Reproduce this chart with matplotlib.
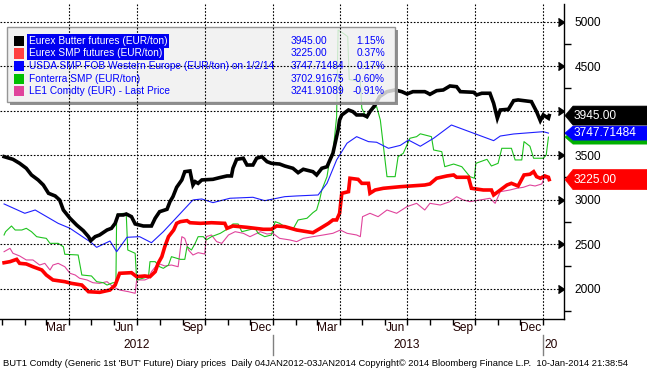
import pandas as pd
import matplotlib
matplotlib.use('Agg')
import matplotlib.pyplot as plt
import matplotlib.dates as mdates
from matplotlib.patches import Rectangle, Polygon
from matplotlib.ticker import MultipleLocator, NullFormatter, FuncFormatter
from matplotlib.transforms import blended_transform_factory

W, H = 647, 373
plt.rcParams['font.family'] = ['Liberation Sans', 'DejaVu Sans']

# days counted from 2012-01-01
START = pd.Timestamp('2012-01-01')

butter_days = [3, 15, 24, 33, 40, 49, 56, 63, 72, 78, 83, 92, 101, 110, 117, 120, 126, 132, 142, 148,
               153, 157, 164, 168, 175, 180, 191, 202, 207, 213, 223, 227, 231, 236, 243, 247, 254, 258, 261, 265,
               270, 285, 294, 304, 310, 312, 317, 326, 331, 339, 344, 351, 358, 364, 375, 382, 393, 400, 407, 420,
               425, 432, 439, 443, 447, 450, 454, 456, 459, 468, 474, 479, 488, 493, 497, 504, 510, 520, 531, 540,
               547, 555, 571, 574, 578, 587, 596, 605, 614, 619, 637, 641, 648, 659, 664, 669, 673, 684, 691, 697,
               715, 722, 727, 731, 738, 739]
butter = [3483, 3453, 3408, 3352, 3277, 3221, 3164, 3071, 3041, 2996, 2883, 2790, 2714, 2650, 2583, 2538, 2583, 2602, 2658, 2677,
          2733, 2827, 2827, 2838, 2808, 2726, 2703, 2703, 2790, 2864, 2891, 2977, 3033, 3138, 3221, 3314, 3322, 3164, 3202, 3183,
          3221, 3228, 3247, 3266, 3266, 3352, 3453, 3465, 3389, 3389, 3465, 3483, 3427, 3408, 3400, 3378, 3352, 3303, 3341, 3314,
          3277, 3352, 3370, 3446, 3521, 3634, 3783, 3896, 3952, 4008, 3989, 3952, 3952, 3933, 3989, 4064, 4158, 4214, 4233, 4214,
          4188, 4214, 4214, 4203, 4184, 4225, 4233, 4278, 4270, 4214, 4207, 4177, 4196, 4196, 4083, 3915, 4008, 4016, 4113, 4121,
          4102, 3989, 3888, 3952, 3915, 3945]

smp_days = [3, 11, 20, 24, 33, 42, 54, 60, 69, 85, 94, 108, 117, 132, 146, 153, 159, 175, 182, 193,
            200, 207, 211, 216, 220, 225, 232, 236, 241, 250, 254, 268, 283, 301, 304, 312, 331, 353, 364, 371,
            382, 398, 420, 430, 441, 447, 452, 456, 459, 468, 470, 481, 486, 495, 497, 504, 515, 538, 571, 578,
            587, 601, 610, 614, 630, 634, 650, 661, 664, 670, 682, 688, 697, 705, 713, 718, 722, 727, 733, 738, 739]
smp = [2290, 2302, 2328, 2283, 2276, 2245, 2208, 2152, 2096, 2077, 2058, 2039, 1964, 1957, 1983, 2039, 2171, 2178, 2133, 2141,
       2133, 2189, 2283, 2358, 2470, 2583, 2658, 2733, 2752, 2763, 2740, 2733, 2740, 2733, 2677, 2703, 2688, 2666, 2666, 2703,
       2696, 2658, 2628, 2677, 2733, 2771, 2771, 2846, 3071, 3089, 3240, 3228, 3183, 3183, 3071, 3108, 3127, 3145, 3164, 3176,
       3240, 3266, 3277, 3251, 3251, 3127, 3108, 3108, 3052, 3089, 3164, 3183, 3153, 3277, 3285, 3314, 3258, 3240, 3266, 3251, 3225]

usda_days = [3, 31, 45, 76, 92, 121, 128, 146, 155, 169, 186, 202, 218, 258, 270, 285, 308, 339, 355, 382,
             398, 427, 439, 452, 466, 479, 495, 506, 522, 538, 549, 565, 583, 607, 664, 673, 691, 731, 738]
usda = [2951, 2846, 2883, 2733, 2677, 2515, 2463, 2534, 2414, 2576, 2583, 2515, 2639, 2996, 3007, 2966, 3015, 3026, 2988, 3033,
        3041, 3052, 3183, 3446, 3634, 3708, 3652, 3645, 3577, 3610, 3670, 3600, 3690, 3839, 3663, 3715, 3738, 3764, 3748]

fonterra_days = [3, 5, 13, 18, 27, 33, 40, 47, 54, 60, 65, 76, 83, 85, 103, 108, 121, 128, 137, 142,
                 150, 154, 155, 164, 168, 170, 180, 182, 198, 200, 207, 213, 218, 225, 229, 241, 247, 250, 256, 261,
                 265, 272, 276, 283, 295, 306, 312, 319, 324, 333, 342, 346, 355, 364, 369, 375, 382, 393, 400, 412,
                 420, 425, 429, 432, 439, 443, 447, 452, 454, 461, 467, 469, 472, 484, 486, 493, 499, 506, 511, 520,
                 531, 535, 542, 551, 560, 565, 580, 583, 594, 598, 610, 621, 632, 638, 640, 655, 661, 670, 675, 688,
                 693, 702, 705, 713, 718, 731, 735, 738]
fonterra = [2602, 2639, 2703, 2658, 2658, 2677, 2639, 2583, 2572, 2564, 2508, 2508, 2470, 2385, 2377, 2152, 2141, 2077, 2065, 2039,
            2065, 2065, 2827, 2846, 2827, 2433, 2396, 2096, 2133, 2302, 2302, 2245, 2227, 2264, 2358, 2328, 2328, 2470, 2433, 2508,
            2583, 2583, 2546, 2583, 2621, 2677, 2726, 2726, 2639, 2658, 2677, 2621, 2583, 2602, 2752, 2733, 2696, 2666, 2771, 2790,
            2853, 2883, 2996, 3108, 3258, 3465, 3521, 3933, 4908, 4871, 4833, 4350, 4346, 4327, 4027, 3915, 4008, 4046, 3896, 3258,
            3258, 3483, 3521, 3690, 3708, 3740, 3708, 3558, 3539, 3370, 3400, 3370, 3258, 3240, 3408, 3453, 3378, 3408, 3577, 3577,
            3446, 3446, 3652, 3600, 3465, 3465, 3502, 3703]

le1_days = [3, 11, 15, 24, 33, 42, 51, 58, 65, 69, 76, 85, 92, 99, 105, 115, 123, 132, 142, 150,
            159, 171, 180, 182, 193, 198, 202, 211, 220, 229, 238, 243, 247, 252, 258, 265, 274, 276, 283, 290,
            297, 306, 315, 326, 335, 349, 358, 366, 375, 389, 398, 407, 420, 434, 447, 457, 466, 479, 484, 487,
            497, 508, 520, 533, 547, 560, 571, 578, 592, 605, 614, 623, 632, 646, 659, 666, 673, 686, 695, 704,
            713, 720, 729, 732, 738]
le1 = [2414, 2452, 2396, 2366, 2321, 2321, 2264, 2283, 2208, 2264, 2283, 2245, 2171, 2152, 2115, 2096, 2065, 2058, 2077, 2020,
       1983, 1964, 1946, 2096, 2096, 2115, 2189, 2283, 2253, 2264, 2245, 2583, 2564, 2433, 2377, 2403, 2388, 2583, 2602, 2527,
       2508, 2602, 2639, 2621, 2583, 2639, 2613, 2621, 2564, 2546, 2527, 2564, 2583, 2602, 2621, 2658, 2621, 2602, 2583, 2808,
       2846, 2808, 2883, 2846, 2921, 2958, 2883, 2958, 2939, 2977, 3033, 2996, 2977, 2996, 3015, 2958, 3089, 3108, 3127, 3138,
       3164, 3153, 3176, 3240, 3242]

legend_labels = ['Eurex Butter futures (EUR/ton)', 'Eurex SMP futures (EUR/ton)',
                 'USDA SMP FOB Western Europe (EUR/ton) on 1/2/14', 'Fonterra SMP (EUR/ton)',
                 'LE1 Comdty (EUR) - Last Price']
legend_values = ['3945.00', '3225.00', '3747.71484', '3702.91675', '3241.91089']
legend_pct = ['1.15%', '0.37%', '0.17%', '-0.60%', '-0.91%']
colors = ['#000000', '#ff0000', '#1f1fff', '#1ec31e', '#e0449c']
legend_sq = ['#000000', '#ff4040', '#0000ff', '#00c000', '#e0449c']

footer = ("BUT1 Comdty (Generic 1st 'BUT' Future) Diary prices  Daily 04JAN2012-03JAN2014 "
          "Copyright\u00a9 2014 Bloomberg Finance L.P.  10-Jan-2014 21:38:54")


def to_dates(days):
    return START + pd.to_timedelta(days, unit='D')


def fpos(x, y):
    # pixel position (from top-left) to figure fraction
    return x / W, 1 - y / H


fig = plt.figure(figsize=(W / 100, H / 100), dpi=100)
fig.patch.set_facecolor('white')
ax = fig.add_axes([0, 54 / H, 564 / W, 315 / H])
ax.set_axisbelow(False)

ax.plot(to_dates(le1_days), le1, color=colors[4], lw=0.8, zorder=2)
ax.plot(to_dates(fonterra_days), fonterra, color=colors[3], lw=0.8, zorder=2)
ax.plot(to_dates(usda_days), usda, color=colors[2], lw=0.8, zorder=2)
ax.plot(to_dates(smp_days), smp, color=colors[1], lw=2.6, zorder=2.05, solid_joinstyle='miter')
ax.plot(to_dates(butter_days), butter, color=colors[0], lw=2.6, zorder=2.1, solid_joinstyle='miter')

ax.set_xlim(pd.Timestamp('2011-12-29 12:00'), pd.Timestamp('2014-01-29'))
ax.set_ylim(1657, 5200)

for s in ['top', 'left']:
    ax.spines[s].set_visible(False)
ax.spines['right'].set_linewidth(1)
ax.spines['bottom'].set_linewidth(1)

# y axis on the right; the 4000 label sits under the butter tag
ax.yaxis.tick_right()
ax.yaxis.set_major_locator(MultipleLocator(500))
ax.yaxis.set_minor_locator(MultipleLocator(250))
ax.yaxis.set_major_formatter(FuncFormatter(lambda v, p: '' if v == 4000 else f'{v:.0f}'))
ax.tick_params(axis='y', which='major', length=0, pad=7.5, labelsize=8.6)
ax.tick_params(axis='y', which='minor', length=5, width=1, direction='out')
ax.grid(axis='y', which='major', color='black', linestyle=(0, (1.5, 1.5)), linewidth=0.8)
yt = [t for t in ax.get_yticks() if 1657 < t < 5200]
ax.plot([1.0] * len(yt), yt, linestyle='none', marker=5, markersize=6, color='black',
        transform=blended_transform_factory(ax.transAxes, ax.transData), clip_on=False, zorder=5)

# x axis
ax.xaxis.set_major_locator(mdates.MonthLocator())
ax.xaxis.set_major_formatter(NullFormatter())
ax.xaxis.set_minor_locator(mdates.MonthLocator(bymonth=[3, 6, 9, 12], bymonthday=15))
ax.xaxis.set_minor_formatter(mdates.DateFormatter('%b'))
ax.tick_params(axis='x', which='major', length=4, width=1, direction='out')
ax.tick_params(axis='x', which='minor', length=0, pad=2, labelsize=8.6, labelcolor='#200000')
for d in pd.date_range('2012-04-01', '2014-01-01', freq='QS-JAN'):
    ax.axvline(d, color='black', linestyle=(0, (1.5, 1.5)), linewidth=0.8, zorder=2.5)

bt = blended_transform_factory(ax.transData, ax.transAxes)
for yr, lab in [('2012-07-01', '2012'), ('2013-07-01', '2013')]:
    ax.text(pd.Timestamp(yr), -0.083, lab, transform=bt, ha='center', va='center',
            fontsize=8.6, color='#200000')
ax.text(pd.Timestamp('2014-01-03'), -0.083, '20', transform=bt, ha='left', va='center',
        fontsize=8.6, color='#200000')
for yr in ['2013-01-01', '2014-01-01']:
    ax.plot([pd.Timestamp(yr)] * 2, [-0.05, -0.115], transform=bt, color='#808080',
            lw=1, clip_on=False)

# legend box
ax.add_patch(Rectangle(fpos(10, 105), 388 / W, 3 / H, transform=fig.transFigure,
                       facecolor='#909090', edgecolor='none', zorder=2.3, clip_on=False))
ax.add_patch(Rectangle(fpos(395, 105), 3 / W, 75 / H, transform=fig.transFigure,
                       facecolor='#909090', edgecolor='none', zorder=2.3, clip_on=False))
ax.add_patch(Rectangle(fpos(7, 102), 388 / W, 75 / H, transform=fig.transFigure,
                       facecolor='#f0f0f0', edgecolor='#808080', lw=1, alpha=0.82,
                       zorder=2.3, clip_on=False))
row_y = [41, 53.5, 66, 78.5, 91]
for i, ry in enumerate(row_y):
    ax.add_patch(Rectangle(fpos(14, ry + 5), 10 / W, 10 / H, transform=fig.transFigure,
                           facecolor=legend_sq[i], edgecolor='none', zorder=3, clip_on=False))
    if i < 2:
        ax.text(*fpos(29, ry), legend_labels[i], transform=fig.transFigure, fontsize=7.3,
                color='white', va='center', ha='left', zorder=3,
                bbox=dict(boxstyle='square,pad=0.15', facecolor='#0000f0', edgecolor='none'))
    else:
        ax.text(*fpos(29, ry), legend_labels[i], transform=fig.transFigure, fontsize=7.3,
                color='#0000ff', va='center', ha='left', zorder=3)
    ax.text(*fpos(291, ry), legend_values[i], transform=fig.transFigure, fontsize=7.3,
            color='#0000ff', va='center', ha='left', zorder=3)
    ax.text(*fpos(385, ry), legend_pct[i], transform=fig.transFigure, fontsize=7.3,
            color='#0000ff', va='center', ha='right', zorder=3)

# last value tags on the right axis
tags = [(fonterra[-1], '#00b000', '', 7),
        (usda[-1], '#0000ff', '3747.71484', 7),
        (smp[-1], '#ff0000', '3225.00', 10),
        (butter[-1], '#000000', '3945.00', 9.5)]
for val, col, txt, hh in tags:
    ypx = H - ax.transData.transform((mdates.date2num(START), val))[1]
    pts = [fpos(565, ypx), fpos(573, ypx - hh), fpos(647, ypx - hh),
           fpos(647, ypx + hh), fpos(573, ypx + hh)]
    fig.add_artist(Polygon(pts, closed=True, transform=fig.transFigure,
                           facecolor=col, edgecolor=col, lw=0.5))
    if txt:
        fig.text(*fpos(574, ypx), txt, fontsize=8.6, color='white', ha='left', va='center')

fig.text(*fpos(3, 363), footer, fontsize=6.75, ha='left', va='center', color='black')

fig.savefig('out.png', dpi=100, facecolor='white')
